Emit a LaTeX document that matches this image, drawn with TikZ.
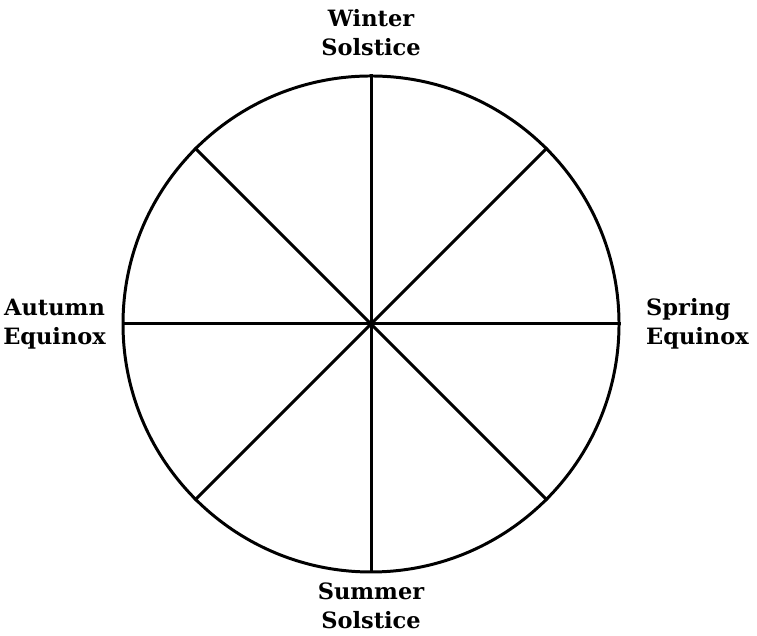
\documentclass[tikz,border=0pt]{standalone}
\usepackage{fontspec}
\setmainfont{DejaVu Serif}
\usetikzlibrary{positioning}

\begin{document}
\begin{tikzpicture}[
  season/.style={inner sep=0pt, align=center, font=\bfseries\fontsize{6.4pt}{8.2pt}\selectfont},
  spoke/.style={draw, line width=0.85pt}
]
  \useasboundingbox[fill=white] (0,0) rectangle (7.57,6.36);

  \node[circle, spoke, minimum size=4.96cm, inner sep=0pt] (wheel) at (3.71,3.12) {};
  \foreach \a/\b in {0/180,45/225,90/270,135/315}
    \draw[spoke] (wheel.\a) -- (wheel.\b);

  \node[season, above=0.18cm of wheel.north] (winter) {Winter\\Solstice};
  \node[season, below=0.09cm of wheel.south] (summer) {Summer\\Solstice};
  \node[season, left=0.15cm of wheel.west] (autumn) {Autumn\\Equinox};
  \node[season, align=left, right=0.25cm of wheel.east] (spring) {Spring\\Equinox};
\end{tikzpicture}
\end{document}
